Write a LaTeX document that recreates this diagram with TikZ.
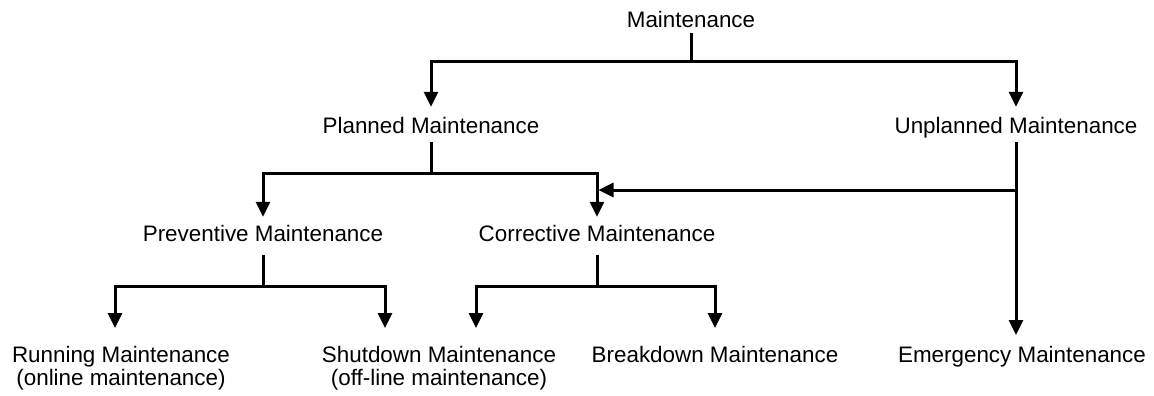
\documentclass[tikz,border=0pt]{standalone}
\usepackage{fontspec}
\setmainfont{Liberation Sans}
\usetikzlibrary{arrows.meta}
\begin{document}
\begin{tikzpicture}[x=1pt,y=-1pt,
  lbl/.style={anchor=base,inner sep=0pt,text height=16pt,text depth=5pt,font=\fontsize{22.4}{22}\selectfont},
  lblb/.style={anchor=north,inner sep=0pt,align=center,font=\fontsize{22.4}{22.5}\selectfont},
  ln/.style={line width=3pt},
  arr/.style={line width=3pt,-{Triangle[length=15pt,width=14pt]}}]
\useasboundingbox (0,0) rectangle (1154,396);
\node[lbl] (m) at (691,28) {Maintenance};
\node[lbl] (pm) at (431,133) {Planned Maintenance};
\node[lbl] (um) at (1016,133) {Unplanned Maintenance};
\node[lbl] (pv) at (263,241) {Preventive Maintenance};
\node[lbl] (cm) at (597,241) {Corrective Maintenance};
\node[lblb] (rm) at (121,346.5) {Running Maintenance\\(online maintenance)};
\node[lblb] (sm) at (439,346.5) {Shutdown Maintenance\\(off-line maintenance)};
\node[lblb] (bm) at (715,346.5) {Breakdown Maintenance};
\node[lblb] (em) at (1022,346.5) {Emergency Maintenance};
\coordinate (r1) at (0,62);
\coordinate (r2) at (0,173);
\coordinate (r3) at (0,190);
\coordinate (r4) at (0,286);
% level 1
\draw[ln] (m.south) -- (m.south |- r1);
\draw[arr,shorten >=10pt] (m.south |- r1) -| (pm.north);
\draw[arr,shorten >=10pt] (m.south |- r1) -| (um.north);
% planned
\draw[ln,shorten <=4pt] (pm.south) -- (pm.south |- r2);
\draw[arr,shorten >=8pt] (pm.south |- r2) -| (pv.north);
\draw[arr,shorten >=8pt] (pm.south |- r2) -| (cm.north);
% unplanned
\draw[arr,shorten <=4pt,shorten >=11.5pt] (um.south) -- (um.south |- em.north);
\draw[arr,shorten >=1.5pt] (um.south |- r3) -- (cm.north |- r3);
% preventive
\draw[ln,shorten <=9pt] (pv.south) -- (pv.south |- r4);
\draw[arr,shorten >=18.5pt] (pv.south |- r4) -| ([xshift=-6pt]rm.north);
\draw[arr,shorten >=18.5pt] (pv.south |- r4) -| ([xshift=-54pt]sm.north);
% corrective
\draw[ln,shorten <=9pt] (cm.south) -- (cm.south |- r4);
\draw[arr,shorten >=18.5pt] (cm.south |- r4) -| ([xshift=37pt]sm.north);
\draw[arr,shorten >=18.5pt] (cm.south |- r4) -| (bm.north);
\end{tikzpicture}
\end{document}
